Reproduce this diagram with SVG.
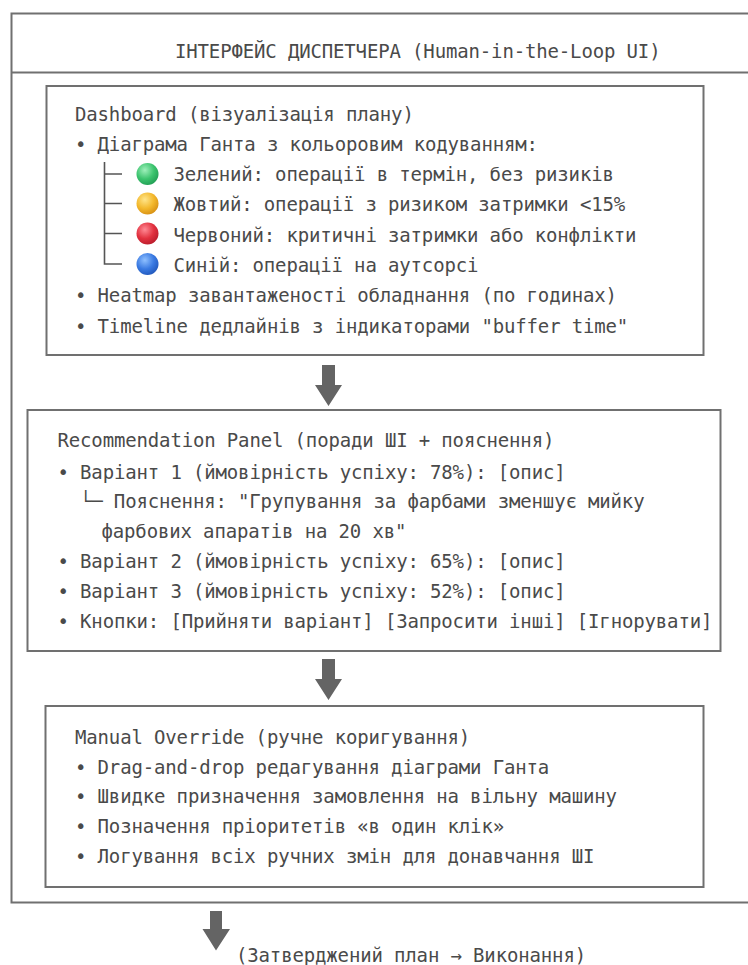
<svg xmlns="http://www.w3.org/2000/svg" width="748" height="965" viewBox="0 0 748 965">
<defs>
<style>
.t{font-family:"DejaVu Sans Mono","Liberation Mono",monospace;font-size:19px;letter-spacing:-0.15px;fill:#4a4a4a}
.box{fill:#fff;stroke:#707070;stroke-width:2}
.frame{fill:none;stroke:#707070;stroke-width:2}
.tree{fill:none;stroke:#555;stroke-width:1.6}
.arrow{fill:#646464}
</style>
<radialGradient id="gG" cx="0.38" cy="0.32" r="0.75"><stop offset="0" stop-color="#9ff0bb"/><stop offset="0.55" stop-color="#3cc46e"/><stop offset="1" stop-color="#1f9a52"/></radialGradient>
<radialGradient id="gY" cx="0.38" cy="0.32" r="0.75"><stop offset="0" stop-color="#ffe58a"/><stop offset="0.55" stop-color="#f3b82c"/><stop offset="1" stop-color="#d48c12"/></radialGradient>
<radialGradient id="gR" cx="0.38" cy="0.32" r="0.75"><stop offset="0" stop-color="#ff8a95"/><stop offset="0.55" stop-color="#e2313f"/><stop offset="1" stop-color="#b51a2a"/></radialGradient>
<radialGradient id="gB" cx="0.38" cy="0.32" r="0.75"><stop offset="0" stop-color="#8fc0ff"/><stop offset="0.55" stop-color="#3a7ae2"/><stop offset="1" stop-color="#1f55b8"/></radialGradient>
</defs>
<rect width="748" height="965" fill="#fff"/>

<g id="frame">
<path class="frame" d="M760 13.5 H11.5 V902.5 H760"/>
<line class="frame" x1="11.5" y1="72.5" x2="748" y2="72.5"/>
<text class="t" x="175" y="58">ІНТЕРФЕЙС ДИСПЕТЧЕРА (Human-in-the-Loop UI)</text>
</g>

<g id="dashboard">
<rect class="box" x="46.5" y="86" width="657" height="269"/>
<text class="t" x="75" y="120.5">Dashboard (візуалізація плану)</text>
<text class="t" x="75" y="150.8">• Діаграма Ганта з кольоровим кодуванням:</text>
<path class="tree" d="M104.5 162 V264 H122 M104.5 174 H122 M104.5 203.5 H122 M104.5 233.5 H122"/>
<circle cx="147.5" cy="174" r="11" fill="url(#gG)"/>
<circle cx="147.5" cy="203.5" r="11" fill="url(#gY)"/>
<circle cx="147.5" cy="233.5" r="11" fill="url(#gR)"/>
<circle cx="147.5" cy="264" r="11" fill="url(#gB)"/>
<text class="t" x="173.5" y="181.1">Зелений: операції в термін, без ризиків</text>
<text class="t" x="173.5" y="211.4">Жовтий: операції з ризиком затримки &lt;15%</text>
<text class="t" x="173.5" y="241.7">Червоний: критичні затримки або конфлікти</text>
<text class="t" x="173.5" y="272">Синій: операції на аутсорсі</text>
<text class="t" x="75" y="302.3">• Heatmap завантаженості обладнання (по годинах)</text>
<text class="t" x="75" y="332.6">• Timeline дедлайнів з індикаторами "buffer time"</text>
</g>

<g id="recommendation">
<rect class="box" x="27.5" y="410" width="693" height="241"/>
<text class="t" x="57.5" y="447">Recommendation Panel (поради ШІ + пояснення)</text>
<text class="t" x="57.5" y="478.5">• Варіант 1 (ймовірність успіху: 78%): [опис]</text>
<text class="t" x="80" y="507.5">└─ Пояснення: "Групування за фарбами зменшує мийку</text>
<text class="t" x="101.5" y="537.5">фарбових апаратів на 20 хв"</text>
<text class="t" x="57.5" y="568">• Варіант 2 (ймовірність успіху: 65%): [опис]</text>
<text class="t" x="57.5" y="598">• Варіант 3 (ймовірність успіху: 52%): [опис]</text>
<text class="t" x="57.5" y="627.5">• Кнопки: [Прийняти варіант] [Запросити інші] [Ігнорувати]</text>
</g>

<g id="manual">
<rect class="box" x="45.5" y="706" width="658" height="181"/>
<text class="t" x="75" y="743.5">Manual Override (ручне коригування)</text>
<text class="t" x="75" y="773.5">• Drag-and-drop редагування діаграми Ганта</text>
<text class="t" x="75" y="803.3">• Швидке призначення замовлення на вільну машину</text>
<text class="t" x="75" y="833.2">• Позначення пріоритетів «в один клік»</text>
<text class="t" x="75" y="863.3">• Логування всіх ручних змін для донавчання ШІ</text>
</g>

<g id="connectors">
<polygon class="arrow" points="322,365 335,365 335,385 342,385 328.5,406 315,385 322,385"/>
<polygon class="arrow" points="322,659 335,659 335,679 342,679 328.5,700 315,679 322,679"/>
<polygon class="arrow" points="210,911 222,911 222,929 230,929 216,950.5 202.5,929 210,929"/>
</g>

<g id="result">
<text class="t" x="236" y="962">(Затверджений план → Виконання)</text>
</g>
</svg>
